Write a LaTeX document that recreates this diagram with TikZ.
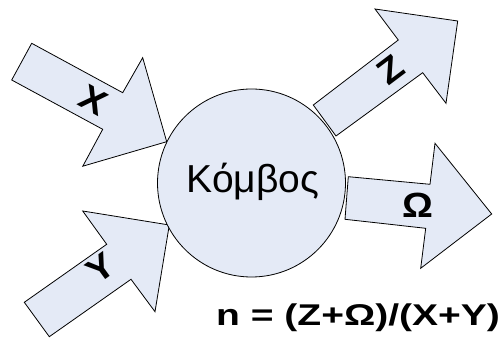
\documentclass[tikz,border=0pt]{standalone}
\usepackage{fontspec}
\usepackage{graphicx}
\setmainfont{Liberation Sans}
\definecolor{arrowfill}{RGB}{228,234,246}
\begin{document}
\begin{tikzpicture}[x=1pt,y=-1pt,
  arrowshape/.style={draw=black,line width=0.8pt,fill=arrowfill,line join=miter},
  lbl/.style={inner sep=0pt,font=\fontsize{35}{37}\selectfont\bfseries},
  nodecircle/.style={circle,draw=black,line width=0.8pt,fill=arrowfill,minimum size=188pt,inner sep=0pt}]
\useasboundingbox (0,0) rectangle (504,344);
% arrows
\draw[arrowshape] (31.7,43.3) -- (122.7,92.7) -- (142.7,57.7) -- (166.7,141.7) -- (82.8,166.2) -- (102.7,129.3) -- (11.7,80) -- cycle;
\draw[arrowshape] (49.3,336.7) -- (131,279.3) -- (155,311.7) -- (169.3,225) -- (82.7,211) -- (106.7,244.3) -- (24.3,302.3) -- cycle;
\draw[arrowshape] (313.3,105) -- (398.3,40) -- (375,9) -- (457.7,21) -- (446,103.3) -- (422.7,72.7) -- (336,136) -- cycle;
\draw[arrowshape] (348.3,176.7) -- (430,184.3) -- (435,143.3) -- (491.7,214) -- (420.7,268.3) -- (425.7,228.3) -- (345,219.3) -- cycle;
% circle
\node[nodecircle] (komvos) at (251.5,183) {};
\node[anchor=base,inner sep=0pt,font=\fontsize{39}{41}\selectfont] (komvostext) at (253,193) {Κόμβος};
% labels
\node[lbl,rotate=-29] (lx) at (94,100) {\scalebox{1.1}[1]{X}};
\node[lbl,rotate=36] (ly) at (101,268) {\scalebox{1.1}[1]{Y}};
\node[lbl,rotate=37] (lz) at (391,70) {\scalebox{1.1}[1]{Z}};
\node[lbl] (lo) at (418,205) {\scalebox{1.1}[1]{Ω}};
% formula
\node[anchor=base west,inner sep=0pt,font=\fontsize{30}{32}\selectfont\bfseries] (formula) at (216,326) {\scalebox{1.3}[1]{n = (Z+Ω)/(X+Y)}};
\end{tikzpicture}
\end{document}
